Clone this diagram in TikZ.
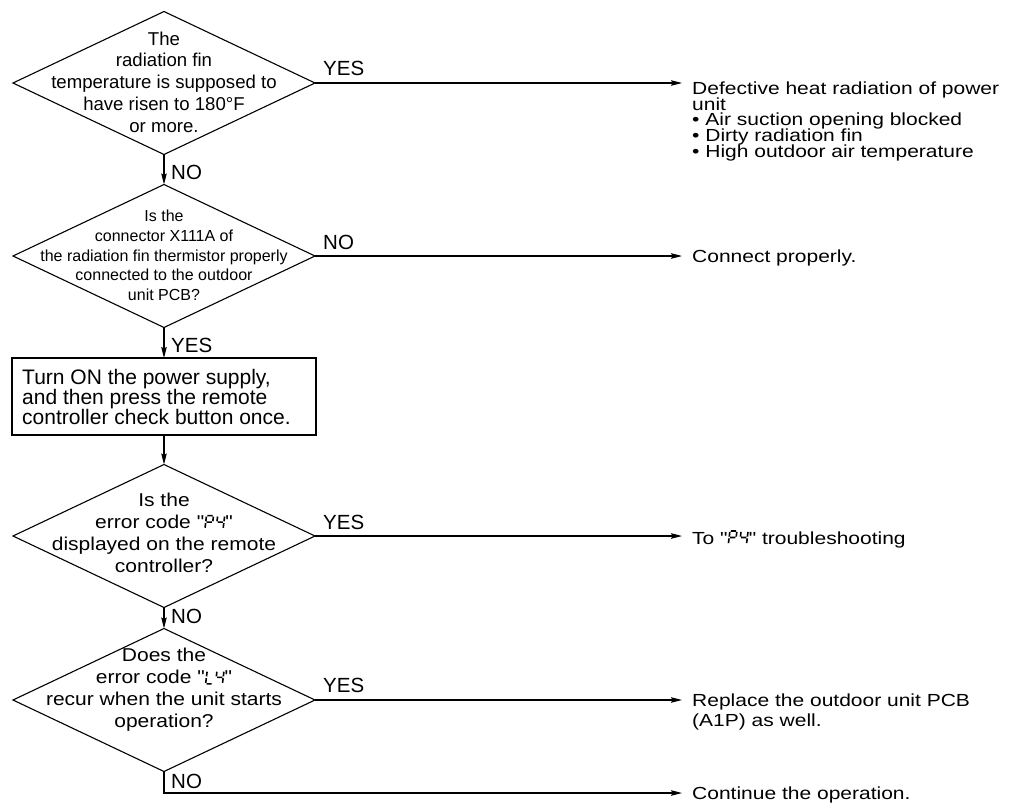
\documentclass[tikz,border=0pt]{standalone}
\usepackage{fontspec}
\setmainfont{Liberation Sans}
\newfontfamily\widefont[FakeStretch=1.13]{Liberation Sans}
\newfontfamily\rightfont[FakeStretch=1.2]{Liberation Sans}
\usetikzlibrary{shapes.geometric,arrows.meta}
\newcommand\tightlines{\lineskiplimit=-30pt\relax}

\tikzset{
  segpic/.style={x=1pt,y=1pt,baseline=0pt,line width=1.6pt,xslant=0.12},
  decision/.style={draw, shape=diamond, line width=1.1pt, minimum width=302pt,
    minimum height=143pt, inner sep=0pt, outer sep=0pt},
  stepbox/.style={draw, rectangle, line width=1.1pt, minimum width=304pt,
    minimum height=77pt, inner sep=0pt, outer sep=0pt},
  dtextA/.style={align=center, inner sep=0pt, font={\fontsize{18.6}{21.7}\selectfont}},
  dtextB/.style={align=center, inner sep=0pt, font={\fontsize{16}{19.7}\selectfont}},
  dtextC/.style={align=center, inner sep=0pt, font={\widefont\fontsize{18.6}{22}\selectfont}},
  boxtext/.style={align=left, inner sep=0pt, font={\fontsize{21}{20}\selectfont\tightlines}},
  lbl/.style={inner sep=0pt, anchor=base west, font={\fontsize{20.5}{24}\selectfont}},
  rtext/.style={inner sep=0pt, align=left, font={\rightfont\fontsize{17.5}{15.8}\selectfont\tightlines}},
  rtextB/.style={inner sep=0pt, align=left, font={\rightfont\fontsize{17.5}{20}\selectfont\tightlines}},
  arr/.style={line width=1.1pt, -{Stealth[length=11pt,width=5.5pt,inset=1.5pt]}},
}

\newcommand\glyphP{\tikz[segpic]{\draw (0.9,13)--(6.1,13) (7,12.1)--(7,7.4)
  (0,12.1)--(0,7.4) (0.9,6.5)--(6.1,6.5) (0,5.6)--(0,0.9);}}
\newcommand\glyphFour{\tikz[segpic]{\draw (0,12.1)--(0,7.4) (0.9,6.5)--(6.1,6.5)
  (7,12.1)--(7,7.4) (7,5.6)--(7,0.9);}}
\newcommand\glyphL{\tikz[segpic]{\draw (0,12.1)--(0,7.4) (0,5.6)--(0,0.9)
  (0.9,0)--(6.1,0);}}
\newcommand\codePF{\glyphP\hspace{2pt}\glyphFour}
\newcommand\codeLF{\glyphL\hspace{3pt}\glyphFour}

\begin{document}
\begin{tikzpicture}[x=1pt,y=-1pt]
\useasboundingbox (0,0) rectangle (1011,803);

% decisions and box
\node[decision] (d1) at (164,83) {};
\node[dtextA] (d1t) at (164,82) {The\\radiation fin\\temperature is supposed to\\have risen to 180°F\\or more.};
\node[decision] (d2) at (164,256) {};
\node[dtextB] (d2t) at (164,255.5) {Is the\\connector X111A of\\the radiation fin thermistor properly\\connected to the outdoor\\unit PCB?};
\node[stepbox] (b1) at (164,396.5) {};
\node[boxtext, anchor=north west] (b1t) at (22,369) {Turn ON the power supply,\\and then press the remote\\controller check button once.};
\node[decision] (d3) at (164,536) {};
\node[dtextC] (d3t) at (164,533) {Is the\\error code "\codePF"\\displayed on the remote\\controller?};
\node[decision] (d4) at (164,700) {};
\node[dtextC] (d4t) at (164,690) {Does the\\error code "\codeLF"\\recur when the unit starts\\operation?};

% arrow tips
\coordinate (tip) at (682,0);
\coordinate (e5) at (682,793);

% vertical connectors
\draw[arr] (d1.south) -- (d2.north);
\node[lbl] (l1) at (171,179) {NO};
\draw[arr] (d2.south) -- (b1.north);
\node[lbl] (l2) at (171,352) {YES};
\draw[arr] (b1.south) -- (d3.north);
\draw[arr] (d3.south) -- (d4.north);
\node[lbl] (l3) at (171,623) {NO};
\draw[arr] (d4.south) |- (e5);
\node[lbl] (l4) at (171,788) {NO};

% horizontal connectors
\draw[arr] (d1.east) -- (d1.east -| tip);
\node[lbl] (l5) at (323,75) {YES};
\draw[arr] (d2.east) -- (d2.east -| tip);
\node[lbl] (l6) at (323,249) {NO};
\draw[arr] (d3.east) -- (d3.east -| tip);
\node[lbl] (l7) at (323,529) {YES};
\draw[arr] (d4.east) -- (d4.east -| tip);
\node[lbl] (l8) at (323,692) {YES};

% results
\node[rtext, anchor=north west] (r1) at (692,81.5) {Defective heat radiation of power\\unit\\• Air suction opening blocked\\• Dirty radiation fin\\• High outdoor air temperature};
\node[rtext, anchor=base west] (r2) at (692,262.5) {Connect properly.};
\node[rtext, anchor=base west] (r3) at (692,544) {To "\codePF" troubleshooting};
\node[rtextB, anchor=north west] (r4) at (692,694) {Replace the outdoor unit PCB\\(A1P) as well.};
\node[rtext, anchor=base west] (r5) at (692,799.5) {Continue the operation.};
\end{tikzpicture}
\end{document}
